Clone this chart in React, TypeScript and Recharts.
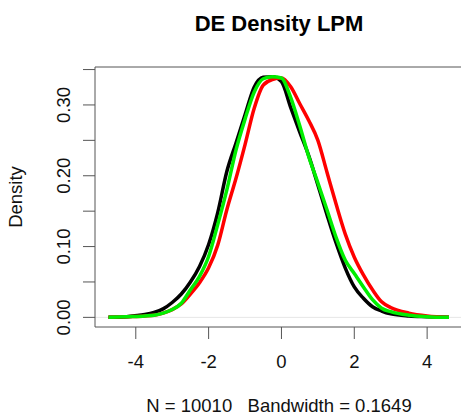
import { LineChart, Line, XAxis, YAxis, ReferenceLine } from 'recharts';

// density estimates (x grid shared by the three curves)
const xs = [-4.75, -4.25, -3.75, -3.5, -3.25, -3.0, -2.75, -2.5, -2.25, -2.0, -1.75, -1.5, -1.25, -1.0, -0.75, -0.5, -0.25, 0, 0.25, 0.5, 0.75, 1.0, 1.25, 1.5, 1.75, 2.0, 2.25, 2.5, 2.75, 3.0, 3.5, 4.0, 4.6];
const blackDensity = [0, 0.001, 0.004, 0.007, 0.012, 0.021, 0.033, 0.05, 0.072, 0.103, 0.148, 0.206, 0.246, 0.286, 0.325, 0.339, 0.34, 0.333, 0.297, 0.262, 0.228, 0.187, 0.145, 0.105, 0.07, 0.043, 0.027, 0.015, 0.009, 0.005, 0.002, 0.001, 0];
const redDensity = [0, 0.001, 0.002, 0.003, 0.006, 0.011, 0.019, 0.033, 0.049, 0.07, 0.102, 0.152, 0.196, 0.244, 0.295, 0.328, 0.336, 0.338, 0.326, 0.302, 0.278, 0.25, 0.205, 0.16, 0.118, 0.085, 0.06, 0.039, 0.022, 0.014, 0.006, 0.002, 0];
const greenDensity = [0, 0.001, 0.002, 0.003, 0.006, 0.011, 0.02, 0.039, 0.058, 0.086, 0.131, 0.18, 0.236, 0.28, 0.318, 0.337, 0.34, 0.338, 0.311, 0.271, 0.227, 0.19, 0.152, 0.113, 0.081, 0.062, 0.043, 0.025, 0.013, 0.008, 0.003, 0.001, 0];

const xTicks = [-4, -2, 0, 2, 4];
const yTicks = [0, 0.05, 0.1, 0.15, 0.2, 0.25, 0.3, 0.35];
const yLabelled = [0, 0.1, 0.2, 0.3];

const title = 'DE Density LPM';
const xTitle = 'N = 10010   Bandwidth = 0.1649';
const yTitle = 'Density';

const data = xs.map((x, i) => ({ x, black: blackDensity[i], red: redDensity[i], green: greenDensity[i] }));

const font = '"Liberation Sans", Arial, Helvetica, sans-serif';
const axisColor = '#555';

function XTick(props: any) {
  const { x, y, payload } = props;
  return (
    <text x={x} y={y} dy={27} textAnchor='middle' fontSize={18.5} fontFamily={font} fill='#111'>
      {String(payload.value)}
    </text>
  );
}

function YTick(props: any) {
  const { x, y, payload } = props;
  const v = payload.value;
  if (!yLabelled.some((t) => Math.abs(t - v) < 1e-9)) return <g />;
  const bx = x - 11;
  return (
    <text x={bx} y={y} transform={`rotate(-90 ${bx} ${y})`} textAnchor='middle' fontSize={18.5} fontFamily={font} fill='#111'>
      {v.toFixed(2)}
    </text>
  );
}

export default function App() {
  return (
    <div style={{ position: 'absolute', left: 0, top: 0, width: 461, height: 416 }}>
      <LineChart width={461} height={416} data={data} margin={{ top: 67, right: 0, bottom: 0, left: 0 }}>
        <XAxis
          dataKey='x'
          type='number'
          domain={[-5.12, 4.93]}
          allowDataOverflow
          ticks={xTicks}
          interval={0}
          height={89}
          tickSize={12}
          stroke={axisColor}
          tick={<XTick />}
        />
        <YAxis
          type='number'
          domain={[-0.0136, 0.3536]}
          allowDataOverflow
          ticks={yTicks}
          interval={0}
          width={95}
          tickSize={12}
          stroke={axisColor}
          tick={<YTick />}
        />
        <ReferenceLine y={0} stroke='#e6e6e6' strokeWidth={1} />
        <ReferenceLine y={0.3536} stroke={axisColor} strokeWidth={1} />
        <Line type='monotone' dataKey='black' stroke='#000000' strokeWidth={3.5} dot={false} isAnimationActive={false} />
        <Line type='monotone' dataKey='red' stroke='#ff0000' strokeWidth={3.5} dot={false} isAnimationActive={false} />
        <Line type='monotone' dataKey='green' stroke='#00ee00' strokeWidth={3.5} dot={false} isAnimationActive={false} />
      </LineChart>
      <svg width={461} height={416} style={{ position: 'absolute', left: 0, top: 0, pointerEvents: 'none' }}>
        <text x={279} y={30.5} textAnchor='middle' fontSize={22} fontWeight='bold' fontFamily={font} fill='#000'>
          {title}
        </text>
        <text x={279} y={412} textAnchor='middle' fontSize={18.5} fontFamily={font} fill='#111' style={{ whiteSpace: 'pre' }}>
          {xTitle}
        </text>
        <text x={22} y={197} transform='rotate(-90 22 197)' textAnchor='middle' fontSize={18.5} fontFamily={font} fill='#111'>
          {yTitle}
        </text>
      </svg>
    </div>
  );
}
